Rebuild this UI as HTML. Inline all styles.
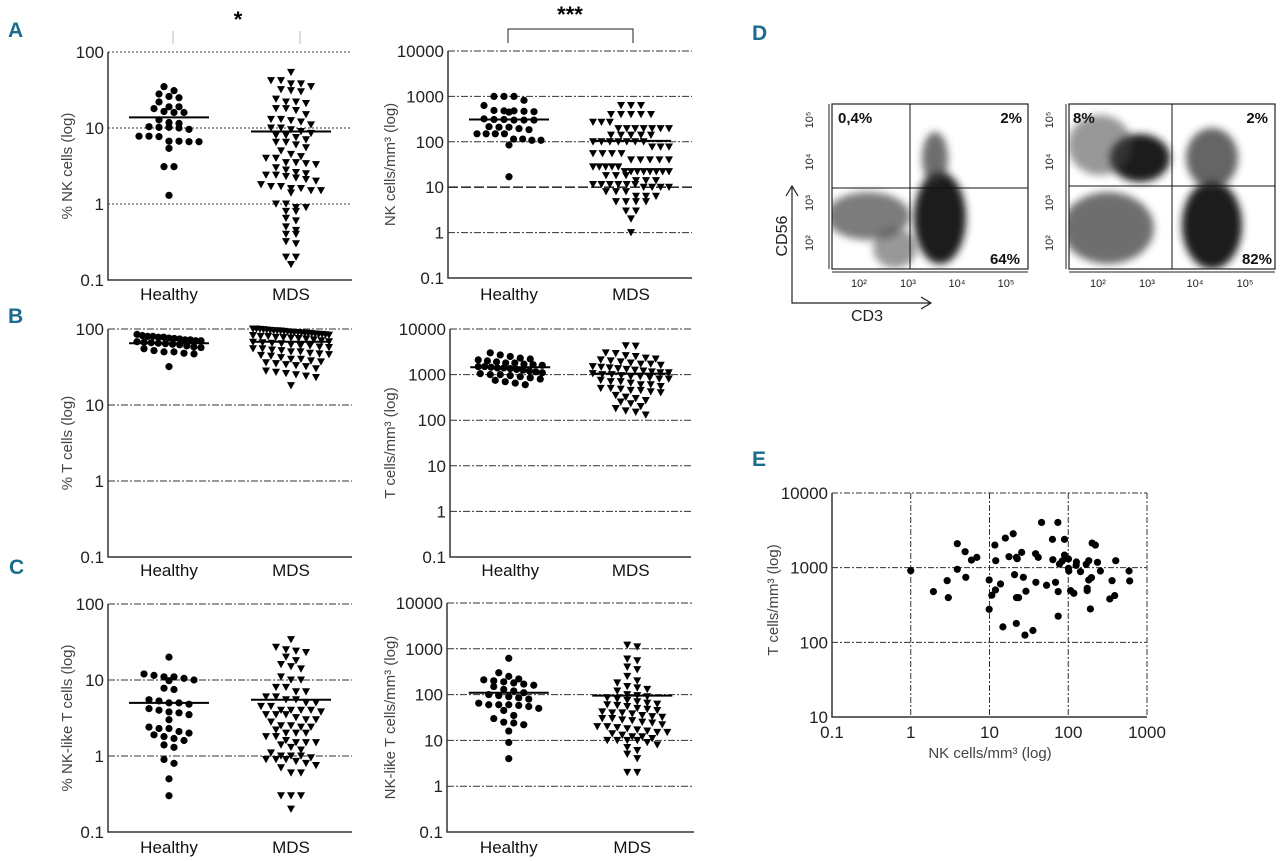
<!DOCTYPE html>
<html><head><meta charset="utf-8"><style>
html,body{margin:0;padding:0;background:#fff}
svg{display:block}
text{font-family:"Liberation Sans Narrow","Liberation Sans",sans-serif}
.tick{font-size:17px;fill:#222}
.ttl{font-size:15px;fill:#444}
.cat{font-size:17px;fill:#111}
.letter{font-family:"Liberation Sans",sans-serif;font-weight:bold;font-size:21px;fill:#1b6b8c}
</style></head><body>
<svg id="fig" width="1280" height="861" viewBox="0 0 1280 861" xmlns="http://www.w3.org/2000/svg">
<defs><filter id="blur4" x="-50%" y="-50%" width="200%" height="200%"><feGaussianBlur stdDeviation="4"/></filter>
<clipPath id="clipD1"><rect x="832" y="104" width="196" height="165"/></clipPath>
<clipPath id="clipD2"><rect x="1069" y="104" width="206" height="165"/></clipPath></defs>
<text class="letter" x="8" y="37">A</text>
<text class="letter" x="8" y="323">B</text>
<text class="letter" x="9" y="574">C</text>
<text class="letter" x="752" y="40">D</text>
<text class="letter" x="752" y="466">E</text>
<g>
<text x="238" y="27" font-size="22" font-weight="bold" text-anchor="middle">*</text>
<line x1="173" y1="31" x2="173" y2="44" stroke="#bbb"/>
<line x1="300" y1="31" x2="300" y2="44" stroke="#bbb"/>
</g>
<g>
<text x="570" y="22" font-size="22" font-weight="bold" text-anchor="middle">***</text>
<path d="M508 43 V29 H633 V43" fill="none" stroke="#222"/>
</g>
<g id="panelD"></g>
</svg>
<script>
// ---------- dot plot data ----------
const categories = ['Healthy','MDS'];
const aLeftHealthy = [35,31,28,26,25,22,19,18,19,16,16,16.5,12.8,11.5,11.8,9.6,10.2,10,10.2,10.4,7.8,7.7,7.8,6.6,6.7,6.6,6.7,5.4,3.1,3.1,1.3];
const aLeftMDS = [54,42,42,38,38,35,32,31,30,24,22,22,21,18,18,17,15,13,13,12.5,12,11,10,10,9.5,9,8.5,8,8,7.5,7,6.5,6.5,6,5.5,5,4.5,4.2,4,4,3.5,3.5,3.4,3.3,3,2.8,2.6,2.5,2.4,2.4,2.3,2.2,2.1,2,1.8,1.7,1.7,1.6,1.6,1.5,1.5,1.4,1.0,1.0,0.9,0.9,0.8,0.8,0.65,0.6,0.5,0.45,0.4,0.4,0.32,0.3,0.2,0.2,0.16];
const aRightHealthy = [1000,1000,1000,820,630,490,470,450,460,480,480,320,300,300,310,300,310,210,210,215,185,195,150,150,150,150,115,108,108,115,85,17];
const aRightMDS = [630,630,630,400,400,400,400,400,270,270,270,195,195,195,195,195,195,195,140,140,140,140,140,100,100,100,100,100,100,100,77,77,77,55,55,55,55,40,40,40,40,40,28,28,28,28,28,22,22,22,22,22,22,22,22,18,18,18,14,14,14,11.5,11.5,11.5,11.5,11.5,11.5,10,10,10,10,8,8,8,6.3,6.3,6.3,4.8,4.8,4.8,4.8,3,3,2,1];
const bLeftHealthy = [85,82,80,80,78,78,76,75,74,72,72,70,70,68,67,66,65,64,63,62,60,58,57,55,52,50,50,48,47,32];
const bLeftMDS = [100,100,99,98,97,96,95,95,94,93,92,91,90,90,89,88,88,87,86,85,85,84,83,82,80,80,78,77,76,75,74,72,70,68,67,66,65,64,62,60,60,58,57,55,55,53,52,50,50,48,47,46,45,44,42,40,40,38,37,36,35,34,33,32,30,28,27,26,25,24,23,18];
const bRightHealthy = [3000,2700,2500,2300,2200,2100,2000,1900,1800,1800,1700,1650,1600,1500,1500,1450,1400,1400,1350,1300,1250,1200,1150,1100,1050,1000,1000,950,900,850,800,750,700,650,600];
const bRightMDS = [4300,4200,3000,2900,2600,2500,2300,2200,2100,2000,1900,1800,1700,1700,1600,1500,1450,1400,1350,1300,1250,1200,1150,1100,1100,1050,1000,1000,950,900,900,850,800,800,750,700,700,650,600,600,550,500,500,480,450,450,420,400,350,320,300,270,250,230,200,180,160,150,130];
const cLeftHealthy = [20,12,11.5,11,11,10.5,10,9.8,7.5,7.8,5.5,5.3,5,5,4.8,4.2,4,3.8,3.7,3.5,3,2.4,2.3,2.3,2.1,2,1.9,1.8,1.7,1.6,1.4,1.3,0.9,0.8,0.5,0.3];
const cLeftMDS = [34,25,24,23,27,20,18,16,15,14,11,10,10,8,8,7,7,6,6,5.5,5.5,5,5,4.5,4.5,4,4,4,4,3.8,3.5,3.5,3.5,3.2,3,3,2.8,2.5,2.5,2.4,2.4,2.2,2,2,2,1.8,1.8,1.6,1.5,1.5,1.5,1.4,1.3,1.2,1.1,1.0,1,1,0.95,0.9,0.9,0.9,0.85,0.8,0.75,0.7,0.6,0.6,0.3,0.3,0.3,0.2];
const cRightHealthy = [620,300,250,220,210,200,190,180,170,160,150,130,120,110,100,95,90,85,80,65,60,60,60,58,55,50,45,35,30,25,24,22,16,9,4];
const cRightMDS = [1200,1100,600,550,400,350,250,200,180,150,140,130,120,100,95,90,85,80,75,70,65,62,60,58,55,50,48,45,42,40,40,38,35,33,32,30,30,28,27,25,24,22,20,20,19,18,17,16,15,15,14,13,12,12,11,10,10,10,10,9,8,7,6,5,4,2,2];
const groupMeans = [[13.8,9],[310,105],[65,68],[1450,1050],[5,5.5],[110,95]];
const pctTicks = ['0.1','1','10','100'];
const absTicks = ['0.1','1','10','100','1000','10000'];
// ---------- scatter E data ----------
const eNK = [1.0,1.94,2.9,3.0,3.9,3.9,4.9,5.0,5.9,6.9,9.9,9.9,10.7,11.7,11.9,12.0,13.8,14.8,15.9,17.7,20,20.8,22,22,22.5,21.9,23.4,25.6,26.9,29,28.2,35.6,38.5,38.8,41.6,45.8,53,63,63.7,68.9,73.8,74.5,74.5,77.4,83.7,89.6,89.6,92.3,100.7,100.7,101.6,107,117.8,127,126,143,169,174,174,182,182,191,197,201,221,235,256,337,360,389,401,592,603];
const eT = [912,478,670,397,2094,951,1637,743,1265,1374,684,277,427,2009,503,1241,605,161,2490,1403,2847,806,1374,397,1319,179,397,1603,743,483,125,144,1538,637,1374,4036,581,2392,1279,637,4036,478,224,1119,1227,2392,1476,1333,1306,980,902,493,454,1191,1074,885,1109,529,493,1241,684,280,735,2137,2009,1178,902,381,670,423,1241,902,664];
const eXTicks = ['0.1','1','10','100','1000'];
const eYTicks = ['10','100','1000','10000'];

const NS='http://www.w3.org/2000/svg';
const svg=document.getElementById('fig');
function el(tag,attrs,parent){const e=document.createElementNS(NS,tag);for(const k in attrs)e.setAttribute(k,attrs[k]);(parent||svg).appendChild(e);return e;}

const panels=[
 {name:'a-left',x0:108,x1:352,top:52,bottom:280,dmin:-1,dmax:2,ticks:pctTicks,title:'% NK cells (log)',tx:72,laby:300,dash:'2,2',data:[aLeftHealthy,aLeftMDS]},
 {name:'a-right',x0:448,x1:692,top:51,bottom:278,dmin:-1,dmax:4,ticks:absTicks,title:'NK cells/mm³ (log)',tx:395,laby:300,dash:'7,2,2,2',data:[aRightHealthy,aRightMDS]},
 {name:'b-left',x0:108,x1:352,top:329,bottom:557,dmin:-1,dmax:2,ticks:pctTicks,title:'% T cells (log)',tx:72,laby:576,dash:'7,2,2,2',data:[bLeftHealthy,bLeftMDS]},
 {name:'b-right',x0:450,x1:691,top:329,bottom:557,dmin:-1,dmax:4,ticks:absTicks,title:'T cells/mm³ (log)',tx:395,laby:576,dash:'7,2,2,2',data:[bRightHealthy,bRightMDS]},
 {name:'c-left',x0:108,x1:352,top:604,bottom:832,dmin:-1,dmax:2,ticks:pctTicks,title:'% NK-like T cells (log)',tx:72,laby:853,dash:'7,2,2,2',data:[cLeftHealthy,cLeftMDS]},
 {name:'c-right',x0:447,x1:694,top:603,bottom:832,dmin:-1,dmax:4,ticks:absTicks,title:'NK-like T cells/mm³ (log)',tx:395,laby:853,dash:'7,2,2,2',data:[cRightHealthy,cRightMDS]}
];

// row-based swarm: points grouped into rows ~7px tall, laid side by side, compressed to a max width
function swarm(vals,yf,cx,step,maxW){
  const ys=vals.map(yf).sort((a,b)=>a-b);
  const rows=[];let cur=null;
  ys.forEach(y=>{ if(!cur||y-cur.y0>6.5){cur={y0:y,ys:[]};rows.push(cur);} cur.ys.push(y); });
  const out=[];
  rows.forEach(r=>{
    const n=r.ys.length;
    const sp=n>1?Math.min(step,maxW/(n-1)):0;
    r.ys.forEach((y,i)=>out.push({x:cx+(i-(n-1)/2)*sp,y:y}));
  });
  return out;
}

panels.forEach((p,pi)=>{
  const g=el('g',{});
  
  
  const yf=v=>p.bottom-(Math.log10(v)-p.dmin)/(p.dmax-p.dmin)*(p.bottom-p.top);
  const W=p.x1-p.x0;
  p.ticks.forEach((t,ti)=>{
    const v=parseFloat(t),y=yf(v);
    if(ti>0){const gl=el('line',{x1:p.x0,x2:p.x1,y1:y,y2:y,stroke:'#333','stroke-width':(p.name==='a-right'&&t==='10')?1.6:1,'stroke-dasharray':(p.name==='a-right'&&t==='10')?'10,3':p.dash},g);
      
      }
    const tl=el('text',{x:p.x0-4,y:y+6,'text-anchor':'end',class:'tick'},g);tl.textContent=t;
    
    
  });
  const ax=el('path',{d:`M${p.x0} ${p.top} V${p.bottom} H${p.x1}`,fill:'none',stroke:'#333','stroke-width':1.5},g);
  
  
  const tt=el('text',{x:p.tx,y:(p.top+p.bottom)/2,'text-anchor':'middle',class:'ttl',transform:`rotate(-90 ${p.tx} ${(p.top+p.bottom)/2})`},g);tt.textContent=p.title;
  
  
  categories.forEach((c,ci)=>{
    const cx=p.x0+W*(ci?0.75:0.25);
    const cl=el('text',{x:cx,y:p.laby,'text-anchor':'middle',class:'cat'},g);cl.textContent=c;
    
    
    const pts=swarm(p.data[ci],yf,cx,10,ci?76:64);
    pts.forEach(pt=>{
      let m;
      if(ci===0) m=el('circle',{cx:pt.x,cy:pt.y,r:3.6,fill:'#000'},g);
      else m=el('polygon',{points:`${pt.x-4},${pt.y-3.5} ${pt.x+4},${pt.y-3.5} ${pt.x},${pt.y+3.8}`,fill:'#000'},g);
      
      
    });
    const my=yf(groupMeans[pi][ci]);
    const ml=el('line',{x1:cx-40,x2:cx+40,y1:my,y2:my,stroke:'#000','stroke-width':2},g);
    
    
  });
});

// ---------- panel E ----------
(function(){
  const g=el('g',{});
  
  
  const X0=832,X1=1147,Y0=717,Y1=493;
  const xf=v=>X0+(Math.log10(v)+1)/4*(X1-X0);
  const yf=v=>Y0-(Math.log10(v)-1)/3*(Y0-Y1);
  eXTicks.forEach((t,i)=>{
    const x=xf(parseFloat(t));
    if(i>0){const gl=el('line',{x1:x,x2:x,y1:Y1,y2:Y0,stroke:'#333','stroke-dasharray':'6,2,2,2'},g);
      
      }
    const tl=el('text',{x:x,y:738,'text-anchor':'middle',class:'tick'},g);tl.textContent=t;
    
    
  });
  eYTicks.forEach((t,i)=>{
    const y=yf(parseFloat(t));
    if(i>0){const gl=el('line',{x1:X0,x2:X1,y1:y,y2:y,stroke:'#333','stroke-dasharray':'6,2,2,2'},g);
      
      }
    const tl=el('text',{x:X0-4,y:y+6,'text-anchor':'end',class:'tick'},g);tl.textContent=t;
    
    
  });
  const ax=el('path',{d:`M${X0} ${Y1} V${Y0} H${X1}`,fill:'none',stroke:'#333','stroke-width':1.5},g);
  
  
  const xt=el('text',{x:990,y:758,'text-anchor':'middle',class:'ttl','font-size':'16'},g);xt.textContent='NK cells/mm³ (log)';
  
  
  const yt=el('text',{x:778,y:600,'text-anchor':'middle',class:'ttl',transform:'rotate(-90 778 600)'},g);yt.textContent='T cells/mm³ (log)';
  
  
  eNK.forEach((v,i)=>{
    const c=el('circle',{cx:xf(v),cy:yf(eT[i]),r:3.6,fill:'#000'},g);
    
    
  });
})();

// ---------- panel D (flow cytometry illustration) ----------
(function(){
  const D=document.getElementById('panelD');
  const plots=[
    {name:'flow-plot-healthy',x:832,w:196,qx:910,qy:188,clip:'clipD1',
     blobs:[[940,218,26,46,'#1a1a1a',1],[935,158,13,26,'#333',0.7],[868,216,42,24,'#444',0.7],[895,248,22,20,'#444',0.55]],
     labels:[['0,4%',838,123,'start'],['2%',1022,123,'end'],['64%',1020,264,'end']],
     xt:[859,908,957,1006],yl:813},
    {name:'flow-plot-mds',x:1069,w:206,qx:1172,qy:186,clip:'clipD2',
     blobs:[[1140,158,30,24,'#1a1a1a',1],[1212,225,30,44,'#1a1a1a',1],[1212,158,26,30,'#333',0.75],[1108,228,46,36,'#333',0.7],[1100,145,32,30,'#444',0.55]],
     labels:[['8%',1073,123,'start'],['2%',1268,123,'end'],['82%',1272,264,'end']],
     xt:[1098,1147,1195,1245],yl:1053}
  ];
  plots.forEach(p=>{
    const g=el('g',{},D);
    
    
    const cg=el('g',{'clip-path':`url(#${p.clip})`},g);
    p.blobs.forEach(b=>{
      const e=el('ellipse',{cx:b[0],cy:b[1],rx:b[2],ry:b[3],fill:b[4],opacity:b[5],filter:'url(#blur4)'},cg);
      
      
    });
    const box=el('rect',{x:p.x,y:104,width:p.w,height:165,fill:'none',stroke:'#222','stroke-width':1.2},g);
    
    
    const q=el('path',{d:`M${p.qx} 104 V269 M${p.x} ${p.qy} H${p.x+p.w}`,stroke:'#111','stroke-width':1},g);
    
    
    p.labels.forEach(l=>{
      const t=el('text',{x:l[1],y:l[2],'text-anchor':l[3],'font-size':'15','font-weight':'bold',fill:'#111'},g);t.textContent=l[0];
      
      
    });
    const tk=el('path',{d:`M${p.x} 272 H${p.x+p.w} M${p.x-3} 104 V269`,stroke:'#222','stroke-width':1,fill:'none'},g);
    
    
    ['10²','10³','10⁴','10⁵'].forEach((s,i)=>{
      const t=el('text',{x:p.xt[i],y:287,'text-anchor':'middle','font-size':'11',fill:'#222'},g);t.textContent=s;
      
      
      const yy=[243,203,162,120][i];
      const t2=el('text',{x:p.yl,y:yy,'text-anchor':'middle','font-size':'11',fill:'#222',transform:`rotate(-90 ${p.yl} ${yy})`},g);t2.textContent=s;
      
      
    });
  });
  const ar=el('path',{d:'M792 186 V303 H931 M786 196 L792 186 L798 196 M921 297 L931 303 L921 309',fill:'none',stroke:'#222','stroke-width':1.2},D);
  
  
  const c56=el('text',{x:787,y:236,'text-anchor':'middle','font-size':'16',fill:'#222','font-family':'Liberation Serif, serif',transform:'rotate(-90 787 236)'},D);c56.textContent='CD56';
  
  
  const c3=el('text',{x:867,y:321,'text-anchor':'middle','font-size':'16',fill:'#222','font-family':'Liberation Serif, serif'},D);c3.textContent='CD3';
  
  
})();
</script>
</body></html>
